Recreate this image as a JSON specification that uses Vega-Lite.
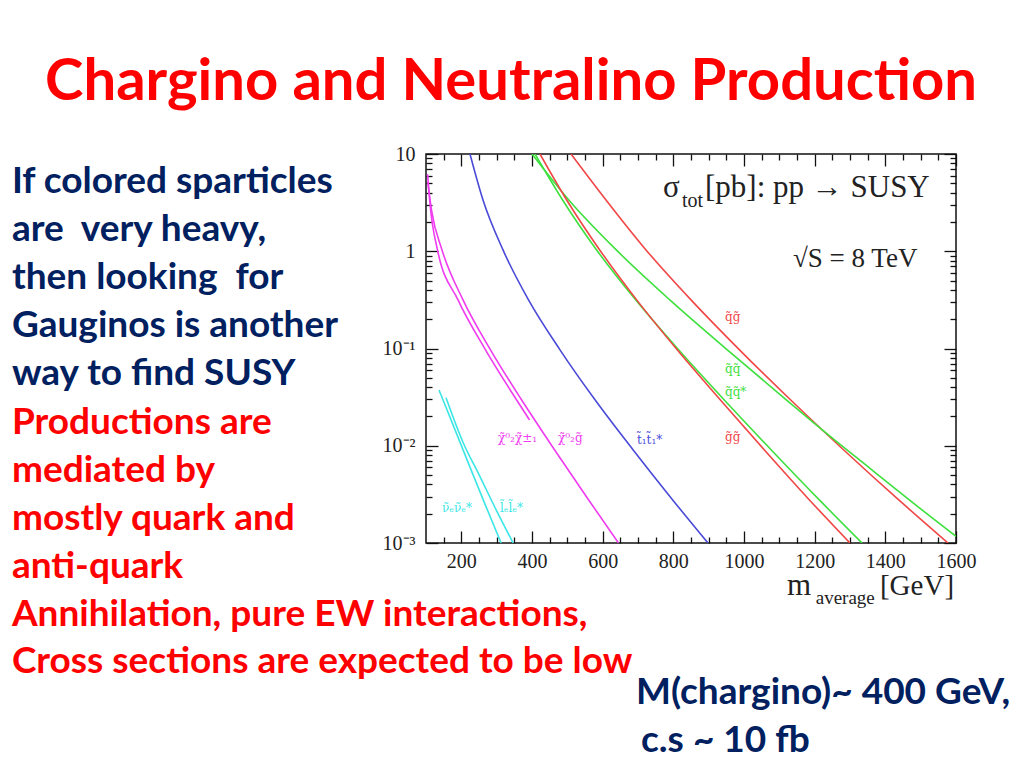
{
  "$schema": "https://vega.github.io/schema/vega-lite/v6.json",
  "width": 530,
  "height": 389,
  "autosize": {"type": "none"},
  "padding": {"left": 426, "top": 154, "right": 68, "bottom": 225},
  "background": "white",
  "config": {
    "view": {"stroke": "#111", "strokeWidth": 1.5},
    "axis": {"grid": false, "domain": false, "labelFont": "Liberation Serif", "labelFontSize": 20, "labelColor": "#222", "tickColor": "#111", "tickWidth": 1.3, "labelOverlap": false, "labelFlush": false}
  },
  "resolve": {"axis": {"x": "independent", "y": "independent"}},
  "datasets": {
    "curves": [
      {"process": "\u03c7\u0303\u2070\u2082\u03c7\u0303\u00b1\u2081", "m": 104.5, "sigma": 6.2},
      {"process": "\u03c7\u0303\u2070\u2082\u03c7\u0303\u00b1\u2081", "m": 112, "sigma": 2.9},
      {"process": "\u03c7\u0303\u2070\u2082\u03c7\u0303\u00b1\u2081", "m": 132.5, "sigma": 1.032},
      {"process": "\u03c7\u0303\u2070\u2082\u03c7\u0303\u00b1\u2081", "m": 190.6, "sigma": 0.3163},
      {"process": "\u03c7\u0303\u2070\u2082\u03c7\u0303\u00b1\u2081", "m": 268.4, "sigma": 0.09692},
      {"process": "\u03c7\u0303\u2070\u2082\u03c7\u0303\u00b1\u2081", "m": 356.1, "sigma": 0.0297},
      {"process": "\u03c7\u0303\u2070\u2082\u03c7\u0303\u00b1\u2081", "m": 392.9, "sigma": 0.01845},
      {"process": "\u03c7\u0303\u2070\u2082g\u0303", "m": 105, "sigma": 5.155},
      {"process": "\u03c7\u0303\u2070\u2082g\u0303", "m": 116, "sigma": 2.6},
      {"process": "\u03c7\u0303\u2070\u2082g\u0303", "m": 145.3, "sigma": 1.032},
      {"process": "\u03c7\u0303\u2070\u2082g\u0303", "m": 204.7, "sigma": 0.3163},
      {"process": "\u03c7\u0303\u2070\u2082g\u0303", "m": 282.5, "sigma": 0.09692},
      {"process": "\u03c7\u0303\u2070\u2082g\u0303", "m": 370.3, "sigma": 0.0297},
      {"process": "\u03c7\u0303\u2070\u2082g\u0303", "m": 463.7, "sigma": 0.009101},
      {"process": "\u03c7\u0303\u2070\u2082g\u0303", "m": 559.9, "sigma": 0.002789},
      {"process": "\u03c7\u0303\u2070\u2082g\u0303", "m": 644.8, "sigma": 0.001},
      {"process": "t\u0303\u2081t\u0303\u2081*", "m": 224.5, "sigma": 10},
      {"process": "t\u0303\u2081t\u0303\u2081*", "m": 261.3, "sigma": 3.368},
      {"process": "t\u0303\u2081t\u0303\u2081*", "m": 317.9, "sigma": 1.032},
      {"process": "t\u0303\u2081t\u0303\u2081*", "m": 390.1, "sigma": 0.3163},
      {"process": "t\u0303\u2081t\u0303\u2081*", "m": 479.2, "sigma": 0.09692},
      {"process": "t\u0303\u2081t\u0303\u2081*", "m": 578.3, "sigma": 0.0297},
      {"process": "t\u0303\u2081t\u0303\u2081*", "m": 685.8, "sigma": 0.009101},
      {"process": "t\u0303\u2081t\u0303\u2081*", "m": 797.6, "sigma": 0.002789},
      {"process": "t\u0303\u2081t\u0303\u2081*", "m": 898, "sigma": 0.001},
      {"process": "\u03bd\u0303\u2091\u03bd\u0303\u2091*", "m": 136.9, "sigma": 0.0375},
      {"process": "\u03bd\u0303\u2091\u03bd\u0303\u2091*", "m": 182.2, "sigma": 0.01457},
      {"process": "\u03bd\u0303\u2091\u03bd\u0303\u2091*", "m": 227.6, "sigma": 0.00565},
      {"process": "\u03bd\u0303\u2091\u03bd\u0303\u2091*", "m": 270.1, "sigma": 0.002355},
      {"process": "\u03bd\u0303\u2091\u03bd\u0303\u2091*", "m": 312.6, "sigma": 0.001},
      {"process": "l\u0303\u2091l\u0303\u2091*", "m": 156.7, "sigma": 0.0311},
      {"process": "l\u0303\u2091l\u0303\u2091*", "m": 204.9, "sigma": 0.01079},
      {"process": "l\u0303\u2091l\u0303\u2091*", "m": 250.3, "sigma": 0.005024},
      {"process": "l\u0303\u2091l\u0303\u2091*", "m": 298.5, "sigma": 0.002194},
      {"process": "l\u0303\u2091l\u0303\u2091*", "m": 346.6, "sigma": 0.001},
      {"process": "q\u0303g\u0303", "m": 510.4, "sigma": 10},
      {"process": "q\u0303g\u0303", "m": 609.4, "sigma": 3.368},
      {"process": "q\u0303g\u0303", "m": 722.6, "sigma": 1.032},
      {"process": "q\u0303g\u0303", "m": 850, "sigma": 0.3163},
      {"process": "q\u0303g\u0303", "m": 987.2, "sigma": 0.09692},
      {"process": "q\u0303g\u0303", "m": 1131.5, "sigma": 0.0297},
      {"process": "q\u0303g\u0303", "m": 1281.5, "sigma": 0.009101},
      {"process": "q\u0303g\u0303", "m": 1437.2, "sigma": 0.002789},
      {"process": "q\u0303g\u0303", "m": 1577.3, "sigma": 0.001},
      {"process": "q\u0303q\u0303", "m": 400, "sigma": 10},
      {"process": "q\u0303q\u0303", "m": 504.1, "sigma": 3.368},
      {"process": "q\u0303q\u0303", "m": 638.5, "sigma": 1.032},
      {"process": "q\u0303q\u0303", "m": 790, "sigma": 0.3163},
      {"process": "q\u0303q\u0303", "m": 952.7, "sigma": 0.09692},
      {"process": "q\u0303q\u0303", "m": 1119.7, "sigma": 0.0297},
      {"process": "q\u0303q\u0303", "m": 1221.5, "sigma": 0.01457},
      {"process": "q\u0303q\u0303", "m": 1361.9, "sigma": 0.005653},
      {"process": "q\u0303q\u0303", "m": 1466.9, "sigma": 0.002789},
      {"process": "q\u0303q\u0303", "m": 1600, "sigma": 0.001172},
      {"process": "q\u0303q\u0303*", "m": 408.5, "sigma": 10},
      {"process": "q\u0303q\u0303*", "m": 486.6, "sigma": 3.368},
      {"process": "q\u0303q\u0303*", "m": 582.8, "sigma": 1.032},
      {"process": "q\u0303q\u0303*", "m": 693.2, "sigma": 0.3163},
      {"process": "q\u0303q\u0303*", "m": 814.9, "sigma": 0.09692},
      {"process": "q\u0303q\u0303*", "m": 943.6, "sigma": 0.0297},
      {"process": "q\u0303q\u0303*", "m": 1076.6, "sigma": 0.009101},
      {"process": "q\u0303q\u0303*", "m": 1212.5, "sigma": 0.002789},
      {"process": "q\u0303q\u0303*", "m": 1333.9, "sigma": 0.001},
      {"process": "g\u0303g\u0303", "m": 422.6, "sigma": 10},
      {"process": "g\u0303g\u0303", "m": 498.2, "sigma": 3.368},
      {"process": "g\u0303g\u0303", "m": 591.6, "sigma": 1.032},
      {"process": "g\u0303g\u0303", "m": 696.3, "sigma": 0.3163},
      {"process": "g\u0303g\u0303", "m": 810.9, "sigma": 0.09692},
      {"process": "g\u0303g\u0303", "m": 932.6, "sigma": 0.0297},
      {"process": "g\u0303g\u0303", "m": 1057.1, "sigma": 0.009101},
      {"process": "g\u0303g\u0303", "m": 1184.5, "sigma": 0.002789},
      {"process": "g\u0303g\u0303", "m": 1299.9, "sigma": 0.001}
    ],
    "labels": [
      {"process": "\u03c7\u0303\u2070\u2082\u03c7\u0303\u00b1\u2081", "m": 303.8, "sigma": 0.01206},
      {"process": "\u03c7\u0303\u2070\u2082g\u0303", "m": 473.6, "sigma": 0.01206},
      {"process": "t\u0303\u2081t\u0303\u2081*", "m": 697.1, "sigma": 0.0115},
      {"process": "\u03bd\u0303\u2091\u03bd\u0303\u2091*", "m": 145.3, "sigma": 0.0023},
      {"process": "l\u0303\u2091l\u0303\u2091*", "m": 309.4, "sigma": 0.0023},
      {"process": "q\u0303g\u0303", "m": 946.2, "sigma": 0.2113},
      {"process": "q\u0303q\u0303", "m": 946.2, "sigma": 0.0617},
      {"process": "q\u0303q\u0303*", "m": 946.2, "sigma": 0.0358},
      {"process": "g\u0303g\u0303", "m": 946.2, "sigma": 0.01235}
    ]
  },
  "layer": [
    {
      "data": {"name": "curves"},
      "mark": {"type": "line", "strokeWidth": 1.6, "interpolate": "monotone", "clip": true},
      "encoding": {
        "x": {"field": "m", "type": "quantitative", "scale": {"type": "linear", "domain": [100, 1600], "nice": false, "zero": false},
              "axis": {"orient": "bottom", "title": null, "format": "d", "values": [200, 400, 600, 800, 1000, 1200, 1400, 1600], "tickSize": -12, "labelPadding": 20}},
        "y": {"field": "sigma", "type": "quantitative", "scale": {"type": "log", "domain": [0.001, 10], "nice": false},
              "axis": {"orient": "left", "title": null, "values": [0.001, 0.01, 0.1, 1, 10], "tickSize": -12, "labelPadding": 23,
                       "labelExpr": "datum.value >= 10 ? '10\u00a0\u00a0' : datum.value == 1 ? '1\u00a0\u00a0' : datum.value == 0.1 ? '10\u207b\u00b9' : datum.value == 0.01 ? '10\u207b\u00b2' : '10\u207b\u00b3'"}},
        "color": {"field": "process", "type": "nominal", "legend": null,
                  "scale": {"domain": ["\u03c7\u0303\u2070\u2082\u03c7\u0303\u00b1\u2081", "\u03c7\u0303\u2070\u2082g\u0303", "t\u0303\u2081t\u0303\u2081*", "\u03bd\u0303\u2091\u03bd\u0303\u2091*", "l\u0303\u2091l\u0303\u2091*", "q\u0303g\u0303", "q\u0303q\u0303", "q\u0303q\u0303*", "g\u0303g\u0303"],
                            "range": ["#f03cf0", "#f03cf0", "#4a4ad8", "#3ce6e6", "#3ce6e6", "#f04646", "#3ee03e", "#3ee03e", "#f04646"]}}
      }
    },
    {
      "data": {"name": "labels"},
      "mark": {"type": "text", "align": "left", "baseline": "middle", "font": "DejaVu Serif", "fontSize": 12},
      "encoding": {
        "x": {"field": "m", "type": "quantitative", "scale": {"type": "linear", "domain": [100, 1600], "nice": false, "zero": false},
              "axis": {"orient": "bottom", "title": null, "labels": false, "tickSize": -6, "values": [150, 250, 300, 350, 450, 500, 550, 650, 700, 750, 850, 900, 950, 1050, 1100, 1150, 1250, 1300, 1350, 1450, 1500, 1550]}},
        "y": {"field": "sigma", "type": "quantitative", "scale": {"type": "log", "domain": [0.001, 10], "nice": false},
              "axis": {"orient": "left", "title": null, "labels": false, "tickSize": -6, "values": [0.002, 0.003, 0.004, 0.005, 0.006, 0.007, 0.008, 0.009, 0.02, 0.03, 0.04, 0.05, 0.06, 0.07, 0.08, 0.09, 0.2, 0.3, 0.4, 0.5, 0.6, 0.7, 0.8, 0.9, 2, 3, 4, 5, 6, 7, 8, 9]}},
        "text": {"field": "process"},
        "color": {"field": "process", "type": "nominal", "legend": null}
      }
    },
    {
      "data": {"values": [{"m": 770.7, "sigma": 3.64, "text": "\u03c3"}]},
      "mark": {"type": "text", "align": "left", "baseline": "alphabetic", "font": "Liberation Serif", "fontSize": 31, "color": "#222"},
      "encoding": {
        "x": {"field": "m", "type": "quantitative", "scale": {"type": "linear", "domain": [100, 1600], "nice": false, "zero": false},
              "axis": {"orient": "top", "title": null, "labels": false, "tickSize": -12, "values": [200, 400, 600, 800, 1000, 1200, 1400, 1600]}},
        "y": {"field": "sigma", "type": "quantitative", "scale": {"type": "log", "domain": [0.001, 10], "nice": false},
              "axis": {"orient": "right", "title": null, "labels": false, "tickSize": -12, "values": [0.001, 0.01, 0.1, 1, 10]}},
        "text": {"field": "text"}
      }
    },
    {
      "data": {"values": [{"m": 824.5, "sigma": 2.853, "text": "tot"}]},
      "mark": {"type": "text", "align": "left", "baseline": "alphabetic", "font": "Liberation Serif", "fontSize": 20, "color": "#222"},
      "encoding": {
        "x": {"field": "m", "type": "quantitative", "scale": {"type": "linear", "domain": [100, 1600], "nice": false, "zero": false},
              "axis": {"orient": "top", "title": null, "labels": false, "tickSize": -6, "values": [150, 250, 300, 350, 450, 500, 550, 650, 700, 750, 850, 900, 950, 1050, 1100, 1150, 1250, 1300, 1350, 1450, 1500, 1550]}},
        "y": {"field": "sigma", "type": "quantitative", "scale": {"type": "log", "domain": [0.001, 10], "nice": false},
              "axis": {"orient": "right", "title": null, "labels": false, "tickSize": -6, "values": [0.002, 0.003, 0.004, 0.005, 0.006, 0.007, 0.008, 0.009, 0.02, 0.03, 0.04, 0.05, 0.06, 0.07, 0.08, 0.09, 0.2, 0.3, 0.4, 0.5, 0.6, 0.7, 0.8, 0.9, 2, 3, 4, 5, 6, 7, 8, 9]}},
        "text": {"field": "text"}
      }
    },
    {
      "data": {"values": [{"m": 889.6, "sigma": 3.64, "text": "[pb]: pp \u2192 SUSY"}]},
      "mark": {"type": "text", "align": "left", "baseline": "alphabetic", "font": "Liberation Serif", "fontSize": 31, "color": "#222"},
      "encoding": {
        "x": {"field": "m", "type": "quantitative", "axis": null},
        "y": {"field": "sigma", "type": "quantitative", "axis": null},
        "text": {"field": "text"}
      }
    },
    {
      "data": {"values": [{"m": 1384.8, "sigma": 0.000294, "text": "[GeV]"}]},
      "mark": {"type": "text", "align": "left", "baseline": "alphabetic", "font": "Liberation Serif", "fontSize": 29, "color": "#222"},
      "encoding": {
        "x": {"field": "m", "type": "quantitative", "axis": null},
        "y": {"field": "sigma", "type": "quantitative", "axis": null},
        "text": {"field": "text"}
      }
    },
    {
      "data": {"values": [{"m": 1138.6, "sigma": 0.695, "text": "\u221aS = 8 TeV"}]},
      "mark": {"type": "text", "align": "left", "baseline": "alphabetic", "font": "Liberation Serif", "fontSize": 27, "color": "#222"},
      "encoding": {
        "x": {"field": "m", "type": "quantitative", "axis": null},
        "y": {"field": "sigma", "type": "quantitative", "axis": null},
        "text": {"field": "text"}
      }
    },
    {
      "data": {"values": [{"m": 1121.6, "sigma": 0.000294, "text": "m"}]},
      "mark": {"type": "text", "align": "left", "baseline": "alphabetic", "font": "Liberation Serif", "fontSize": 31, "color": "#222"},
      "encoding": {
        "x": {"field": "m", "type": "quantitative", "axis": null},
        "y": {"field": "sigma", "type": "quantitative", "axis": null},
        "text": {"field": "text"}
      }
    },
    {
      "data": {"values": [{"m": 1203, "sigma": 0.000237, "text": "average"}]},
      "mark": {"type": "text", "align": "left", "baseline": "alphabetic", "font": "Liberation Serif", "fontSize": 19, "color": "#222"},
      "encoding": {
        "x": {"field": "m", "type": "quantitative", "axis": null},
        "y": {"field": "sigma", "type": "quantitative", "axis": null},
        "text": {"field": "text"}
      }
    },
    {
      "data": {"values": [{"m": -978, "sigma": 35.9, "text": "Chargino and Neutralino Production"}]},
      "mark": {"type": "text", "align": "left", "baseline": "alphabetic", "font": "Lato", "fontWeight": "bold", "fontSize": 58, "color": "#ff0000"},
      "encoding": {
        "x": {"field": "m", "type": "quantitative", "axis": null},
        "y": {"field": "sigma", "type": "quantitative", "axis": null},
        "text": {"field": "text"}
      }
    },
    {
      "data": {"values": [
        {"m": -1072, "sigma": 3.97, "text": "If colored sparticles"},
        {"m": -1072, "sigma": 1.276, "text": "are\u00a0 very heavy,"},
        {"m": -1072, "sigma": 0.41, "text": "then looking\u00a0 for"},
        {"m": -1072, "sigma": 0.1316, "text": "Gauginos is another"},
        {"m": -1072, "sigma": 0.04227, "text": "way to find SUSY"}
      ]},
      "mark": {"type": "text", "align": "left", "baseline": "alphabetic", "font": "Lato", "fontWeight": "bold", "fontSize": 37, "color": "#002060"},
      "encoding": {
        "x": {"field": "m", "type": "quantitative", "axis": null},
        "y": {"field": "sigma", "type": "quantitative", "axis": null},
        "text": {"field": "text"}
      }
    },
    {
      "data": {"values": [
        {"m": -1072, "sigma": 0.01326, "text": "Productions are"},
        {"m": -1072, "sigma": 0.004256, "text": "mediated by"},
        {"m": -1072, "sigma": 0.001367, "text": "mostly quark and"},
        {"m": -1072, "sigma": 0.000439, "text": "anti-quark"},
        {"m": -1072, "sigma": 0.0001409, "text": "Annihilation, pure EW interactions,"},
        {"m": -1072, "sigma": 0.00004634, "text": "Cross sections are expected to be low"}
      ]},
      "mark": {"type": "text", "align": "left", "baseline": "alphabetic", "font": "Lato", "fontWeight": "bold", "fontSize": 37, "color": "#ff0000"},
      "encoding": {
        "x": {"field": "m", "type": "quantitative", "axis": null},
        "y": {"field": "sigma", "type": "quantitative", "axis": null},
        "text": {"field": "text"}
      }
    },
    {
      "data": {"values": [
        {"m": 694.3, "sigma": 0.00002225, "text": "M(chargino)~ 400 GeV,"},
        {"m": 708.5, "sigma": 0.00000714, "text": "c.s ~ 10 fb"}
      ]},
      "mark": {"type": "text", "align": "left", "baseline": "alphabetic", "font": "Lato", "fontWeight": "bold", "fontSize": 37, "color": "#002060"},
      "encoding": {
        "x": {"field": "m", "type": "quantitative", "axis": null},
        "y": {"field": "sigma", "type": "quantitative", "axis": null},
        "text": {"field": "text"}
      }
    }
  ]
}
